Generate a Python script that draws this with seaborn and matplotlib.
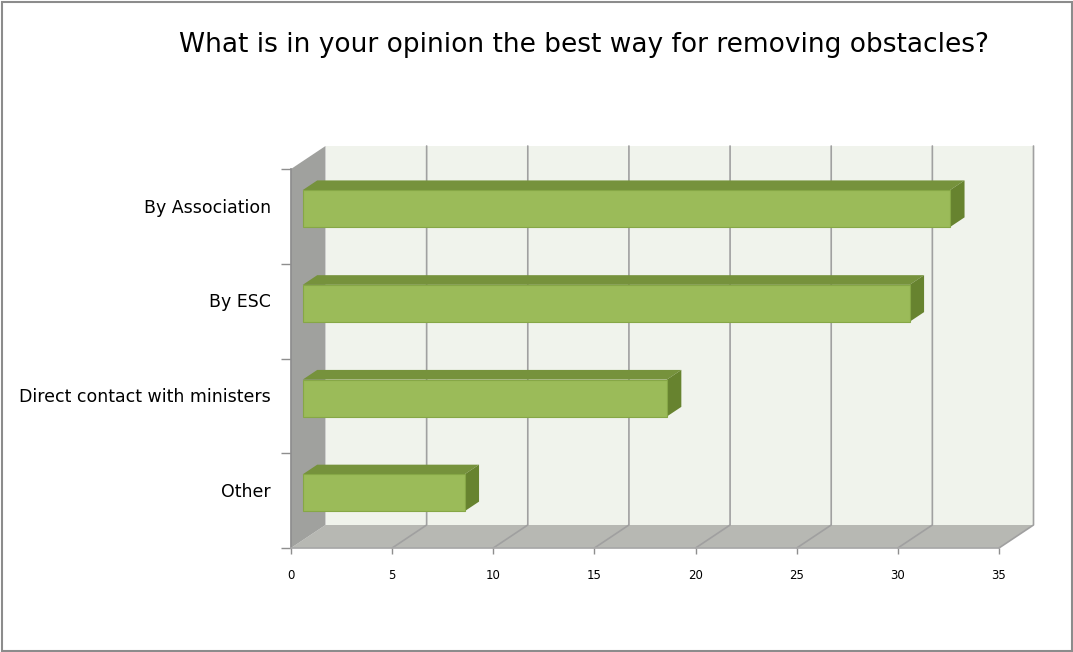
import matplotlib
matplotlib.use("Agg")
import matplotlib.pyplot as plt
from matplotlib.patches import Polygon, Rectangle
from matplotlib.transforms import Affine2D, IdentityTransform
import pandas as pd
import seaborn as sns

# Survey answers
categories = ["By Association", "By ESC", "Direct contact with ministers", "Other"]
responses = [32, 30, 18, 8]
x_ticks = [0, 5, 10, 15, 20, 25, 30, 35]
title = "What is in your opinion the best way for removing obstacles?"

sns.set_theme(style="white")
plt.rcParams["font.family"] = ["DejaVu Sans"]

W, H, DPI = 1073, 652, 100
fig = plt.figure(figsize=(W / DPI, H / DPI), dpi=DPI)
fig.patch.set_facecolor("white")

# front plane of the 3-D box
ax = fig.add_axes([291 / W, (H - 548) / H, (999 - 291) / W, (548 - 169) / H])

DEPTH_X, DEPTH_Y = 34.5, 23.0      # pixel shift of the back plane
BAR_FRONT, BAR_BACK = 0.34, 0.76   # depth range occupied by the bars
BAR_H = 0.39

FRONT = "#9BBB59"
TOP = "#76923C"
SIDE = "#67832F"
WALL = "#F0F3EC"
FLOOR = "#B7B8B3"
SIDEWALL = "#A0A19E"
GRID = "#A0A0A0"

df = pd.DataFrame({"option": categories, "count": responses})
sns.barplot(data=df, x="count", y="option", orient="h", color=FRONT,
            saturation=1, width=BAR_H, edgecolor="#86A746", linewidth=0.8,
            ax=ax, zorder=6)
bars = list(ax.patches)

n = len(categories)
ax.set_xlim(x_ticks[0], x_ticks[-1])
ax.set_ylim(n - 0.5, -0.5)
ax.set_facecolor("none")
ax.set_xlabel("")
ax.set_ylabel("")


def proj(x, y, d):
    px, py = ax.transData.transform((x, y))
    return (px + d * DEPTH_X, py + d * DEPTH_Y)


def face(points, color, z, ec="none", lw=0):
    poly = Polygon([proj(*p) for p in points], closed=True, facecolor=color,
                   edgecolor=ec, linewidth=lw, transform=IdentityTransform(),
                   zorder=z, clip_on=False)
    ax.add_patch(poly)


x0, x1 = x_ticks[0], x_ticks[-1]
ytop, ybot = -0.5, n - 0.5

# back wall, floor and side wall
face([(x0, ytop, 1), (x1, ytop, 1), (x1, ybot, 1), (x0, ybot, 1)], WALL, 0.5)
face([(x0, ybot, 0), (x1, ybot, 0), (x1, ybot, 1), (x0, ybot, 1)], FLOOR, 1)
face([(x0, ytop, 0), (x0, ytop, 1), (x0, ybot, 1), (x0, ybot, 0)], SIDEWALL, 2)

# gridlines on the back wall and the floor
for t in x_ticks[1:]:
    pts = [proj(t, ytop, 1), proj(t, ybot, 1), proj(t, ybot, 0)]
    ax.plot([p[0] for p in pts], [p[1] for p in pts], color=GRID, lw=1.2,
            transform=IdentityTransform(), zorder=1.5, clip_on=False)

# 3-D bars: move the front faces back and add top and side faces
shift = Affine2D().translate(BAR_FRONT * DEPTH_X, BAR_FRONT * DEPTH_Y)
for p in bars:
    p.set_transform(ax.transData + shift)
    p.set_clip_on(False)
    w = p.get_width()
    yt = p.get_y()
    yb = yt + p.get_height()
    face([(0, yt, BAR_FRONT), (w, yt, BAR_FRONT), (w, yt, BAR_BACK), (0, yt, BAR_BACK)],
         TOP, 5)
    face([(w, yt, BAR_FRONT), (w, yb, BAR_FRONT), (w, yb, BAR_BACK), (w, yt, BAR_BACK)],
         SIDE, 5)

# axes decoration
for s in ["top", "right"]:
    ax.spines[s].set_visible(False)
ax.spines["left"].set_color("#8E8E8E")
ax.spines["bottom"].set_color("#A8A8A8")
ax.spines["left"].set_zorder(3)
ax.spines["bottom"].set_zorder(3)

ax.set_xticks(x_ticks)
ax.set_xticklabels([str(t) for t in x_ticks])
ax.tick_params(axis="x", bottom=True, length=4, width=1, color="#8E8E8E",
               labelsize=8.5, pad=11, labelcolor="black")

px_per_cat = abs(ax.transData.transform((0, 1))[1] - ax.transData.transform((0, 0))[1])
label_shift = BAR_FRONT * DEPTH_Y / px_per_cat + 0.03
ax.set_yticks([i - label_shift for i in range(n)])
ax.set_yticklabels(categories)
ax.set_yticks([i - 0.5 for i in range(n + 1)], minor=True)
ax.tick_params(axis="y", which="major", left=False, length=0, pad=14.5,
               labelsize=12.5, labelcolor="black")
ax.tick_params(axis="y", which="minor", left=True, length=7, width=1,
               color="#8E8E8E")

fig.text(584 / W, 1 - 45 / H, title, ha="center", va="center", fontsize=19,
         color="black")

fig.add_artist(Rectangle((1.5 / W, 1.5 / H), 1 - 3 / W, 1 - 3 / H,
                         transform=fig.transFigure, fill=False,
                         edgecolor="#8C8C8C", linewidth=1.5))

fig.savefig("out.png", dpi=DPI)
